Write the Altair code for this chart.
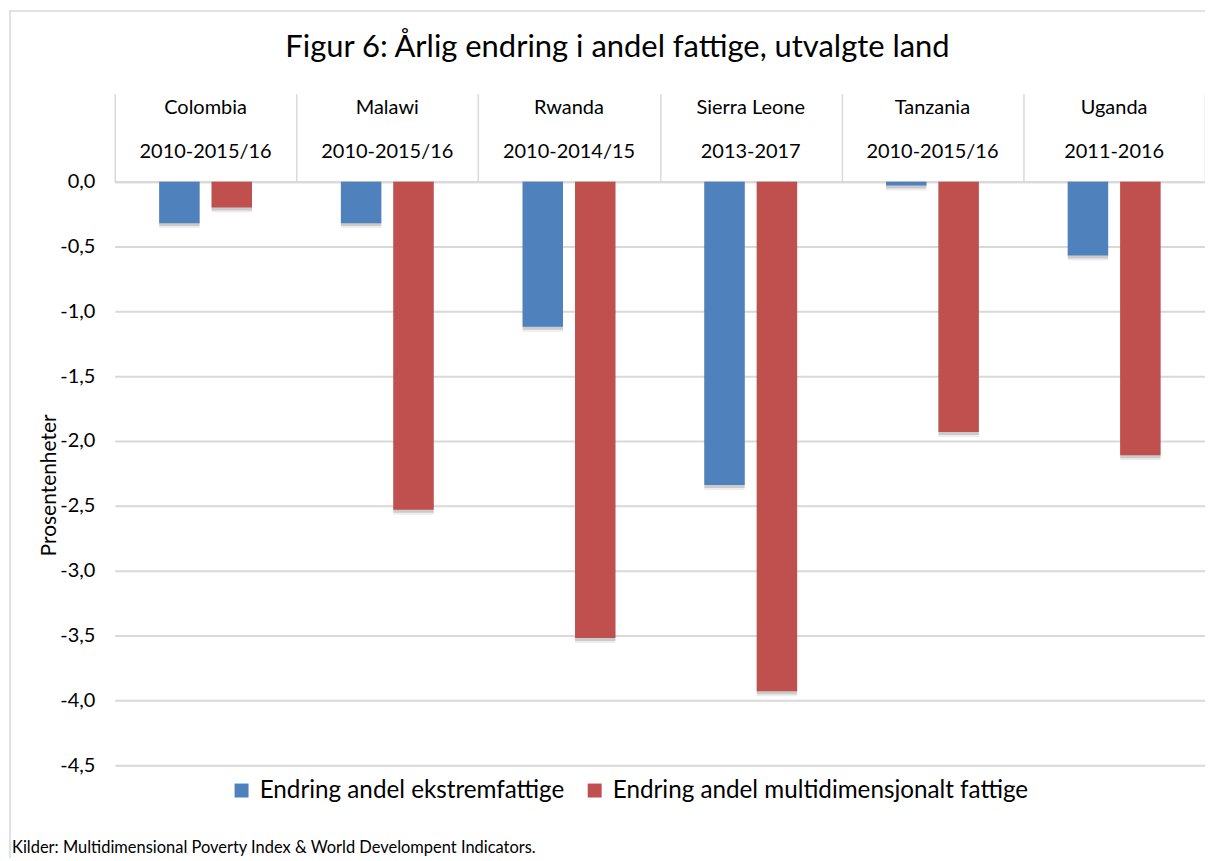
import altair as alt
import pandas as pd

countries = ["Colombia", "Malawi", "Rwanda", "Sierra Leone", "Tanzania", "Uganda"]
periods = ["2010-2015/16", "2010-2015/16", "2010-2014/15", "2013-2017", "2010-2015/16", "2011-2016"]
series = ["Endring andel ekstremfattige", "Endring andel multidimensjonalt fattige"]
ekstrem = [-0.32, -0.32, -1.12, -2.34, -0.03, -0.57]
multi = [-0.20, -2.53, -3.52, -3.93, -1.93, -2.11]
y_ticks = [0, -0.5, -1.0, -1.5, -2.0, -2.5, -3.0, -3.5, -4.0, -4.5]
colors = ["#4F81BD", "#C0504D"]
title_text = "Figur 6: Årlig endring i andel fattige, utvalgte land"
footer_text = "Kilder: Multidimensional Poverty Index &  World Develompent Indicators."

rows = []
for c, a, b in zip(countries, ekstrem, multi):
    rows.append({"land": c, "serie": series[0], "verdi": a})
    rows.append({"land": c, "serie": series[1], "verdi": b})
df = pd.DataFrame(rows)
hdr = pd.DataFrame({"land": countries, "periode": periods})
one = pd.DataFrame({"t": [footer_text], "title": [title_text]})

FONT = "Lato"
GRID = "#d9d9d9"

x_enc = alt.X(
    "land:N", sort=countries,
    scale=alt.Scale(paddingInner=0, paddingOuter=0),
    axis=alt.Axis(orient="top", labels=False, title=None, tickBand="extent",
                  tickSize=88, tickColor=GRID, tickWidth=1.5,
                  domainColor=GRID, domainWidth=2),
)
xo_enc = alt.XOffset("serie:N", sort=series,
                     scale=alt.Scale(paddingInner=0.229, paddingOuter=0.848))
y_enc = alt.Y(
    "verdi:Q",
    scale=alt.Scale(domain=[-4.5, 0], nice=False),
    axis=alt.Axis(values=y_ticks,
                  labelExpr="(datum.value < 0 ? '-' : '') + replace(format(abs(datum.value), '.1f'), '.', ',')",
                  ticks=False, domain=False, gridColor=GRID, gridWidth=2,
                  labelFontSize=20, labelPadding=20, labelFont=FONT,
                  labelColor="#000000",
                  title="Prosentenheter", titleFontSize=21, titleFont=FONT,
                  titleFontWeight="normal", titleColor="#000000",
                  titleX=-65, titleY=304, titleAlign="center",
                  titleBaseline="middle"),
)

border = alt.Chart(one).mark_rect(fillOpacity=0, stroke=GRID, strokeWidth=1.5).encode(
    x=alt.value(-105), x2=alt.value(1200), y=alt.value(-171), y2=alt.value(700)
)

shadow2 = alt.Chart(df).mark_bar(color="#000000", opacity=0.07, xOffset=5, yOffset=5).encode(
    x=x_enc, xOffset=xo_enc, y=y_enc, y2=alt.datum(0)
)
shadow = alt.Chart(df).mark_bar(color="#000000", opacity=0.14, xOffset=3, yOffset=3).encode(
    x=x_enc, xOffset=xo_enc, y=y_enc, y2=alt.datum(0)
)

bars = alt.Chart(df).mark_bar().encode(
    x=x_enc, xOffset=xo_enc, y=y_enc, y2=alt.datum(0),
    color=alt.Color(
        "serie:N", sort=series,
        scale=alt.Scale(domain=series, range=colors),
        legend=alt.Legend(
            title=None, orient="none", direction="horizontal",
            legendX=115, legendY=598, padding=0,
            symbolType="square", symbolSize=196,
            symbolStrokeWidth=0, labelFontSize=24.3, labelFont=FONT,
            labelColor="#000000", columnPadding=18, labelOffset=6,
            labelLimit=700,
        ),
    ),
)

country_txt = alt.Chart(hdr).mark_text(fontSize=20, font=FONT, baseline="middle", color="#000000").encode(
    x=alt.X("land:N", sort=countries), y=alt.value(-74), text="land:N"
)
period_txt = alt.Chart(hdr).mark_text(fontSize=20, font=FONT, baseline="middle", color="#000000").encode(
    x=alt.X("land:N", sort=countries), y=alt.value(-30), text="periode:N"
)

title = alt.Chart(one).mark_text(align="center", baseline="middle", fontSize=31,
                                 font=FONT, color="#000000").encode(
    x=alt.value(504), y=alt.value(-134), text="title:N"
)

footer = alt.Chart(one).mark_text(align="left", baseline="alphabetic", fontSize=16.5,
                                  font=FONT, color="#000000").encode(
    x=alt.value(-103), y=alt.value(673), text="t:N"
)

chart = alt.layer(border, shadow2, shadow, bars, country_txt, period_txt, title, footer).properties(
    width=1093, height=585,
    autosize=alt.AutoSizeParams(type="none"),
    padding={"left": 107, "top": 173, "right": 0, "bottom": 92},
).configure_view(stroke=None)

chart.save("out.html", embed_options={"renderer": "svg", "actions": False})
